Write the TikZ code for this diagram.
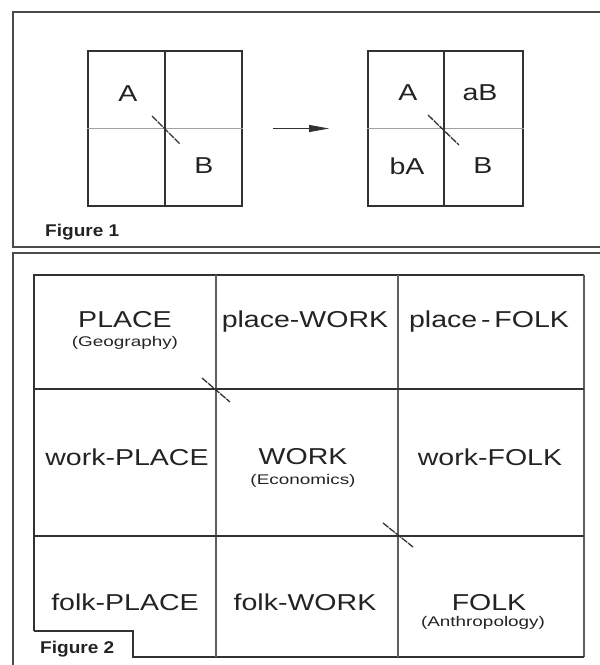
\documentclass[tikz,border=0pt]{standalone}
\usepackage{fontspec}
\usepackage{xcolor}
\usepackage{tikz}
\usetikzlibrary{arrows.meta, positioning}
\newfontfamily\cellfont[FakeStretch=1.24]{Liberation Sans}
\newfontfamily\subfont[FakeStretch=1.35]{Liberation Sans}
\newfontfamily\tagfont[FakeStretch=1.12]{Liberation Sans}
\definecolor{cink}{RGB}{35,35,35}
\definecolor{cline}{RGB}{50,50,50}
\definecolor{cthin}{RGB}{160,160,160}
\definecolor{cmid}{RGB}{95,95,95}
\definecolor{cframe}{RGB}{75,75,75}

\begin{document}
\begin{tikzpicture}[
  x=1pt, y=-1pt,
  lbl/.style     = {font=\cellfont\fontsize{23}{25}\selectfont, text=cink,
                    inner sep=0pt, anchor=base},
  sublbl/.style  = {font=\subfont\fontsize{14}{16}\selectfont, text=cink,
                    inner sep=0pt},
  figlbl/.style  = {font=\tagfont\bfseries\fontsize{17}{19}\selectfont,
                    text=cink, inner sep=0pt, anchor=base west},
  frame/.style   = {cframe, line width=2.2pt},
  outer/.style   = {cline, line width=1.8pt},
  thick row/.style = {cline, line width=2pt},
  thin col/.style  = {cmid, line width=1.1pt},
  faint/.style   = {cthin, line width=0.9pt},
  slash/.style   = {cline, line width=1.3pt, dash pattern=on 7pt off 1pt},
  arr/.style     = {-{Triangle[length=20pt, width=7pt]}, cline, line width=0.9pt},
]

%% --- frames ---
\useasboundingbox (0,0) rectangle (600,665);
\draw[frame] (600,12) -- (13,12) -- (13,247) -- (600,247);
\draw[frame] (600,253) -- (13,253) -- (13,665);

%% --- Figure 1 ---
\node[draw=cline, line width=1.8pt, minimum width=154pt, minimum height=155pt,
      inner sep=0pt] (gridL) at (165,128.5) {};
\node[draw=cline, line width=1.8pt, minimum width=155pt, minimum height=155pt,
      inner sep=0pt] (gridR) at (445.5,128.5) {};
\draw[faint] (gridL.west) -- (gridL.east);
\draw[faint] (gridR.west) -- (gridR.east);
\draw[outer] (gridL.north) -- (gridL.south);
\draw[outer] ([xshift=-1.5pt]gridR.north) -- ([xshift=-1.5pt]gridR.south);

\node[lbl] (a1)  at (128,101) {A};
\node[lbl] (b1)  at (204,173) {B};
\node[lbl] (a2)  at (408,100) {A};
\node[lbl] (ab2) at (480,100) {aB};
\node[lbl] (ba2) at (407,174) {bA};
\node[lbl] (b2)  at (483,173) {B};

\draw[slash] (152,116) -- (180,144);
\draw[slash] (428,115) -- (459,145);

\draw[arr] ([xshift=30pt]gridL.east) -- ([xshift=-38pt]gridR.west);

\node[figlbl] (fig1) at (45,236) {Figure 1};

%% --- Figure 2 grid ---
\draw[outer] (34,631) -- (34,275) -- (584,275);
\draw[outer, line width=1.2pt, cmid] (584,275) -- (584,657);
\draw[outer, line width=1.5pt] (584,657) -- (133,657) -- (133,631) -- (34,631);
\draw[thin col] (216,275) -- (216,657);
\draw[thin col] (398,275) -- (398,657);
\draw[thick row] (34,389) -- (584,389);
\draw[thick row] (34,536) -- (584,536);

\draw[slash] (202,378) -- (230,402);
\draw[slash] (383,523) -- (413,547);

%% --- Figure 2 labels ---
\node[lbl] (place)     at (125,327) {PLACE};
\node[lbl] (placework) at (305,327) {place-WORK};
\node[lbl] (placefolk) at (489,327) {place\,-\,FOLK};
\node[lbl] (workplace) at (127,465) {work-PLACE};
\node[lbl] (work)      at (303,464) {WORK};
\node[lbl] (workfolk)  at (490,465) {work-FOLK};
\node[lbl] (folkplace) at (125,610) {folk-PLACE};
\node[lbl] (folkwork)  at (305,610) {folk-WORK};
\node[lbl] (folk)      at (489,610) {FOLK};

\node[sublbl, below=9pt of place] (geo)  {(Geography)};
\node[sublbl, below=10pt of work] (econ) {(Economics)};
\node[sublbl, below=6pt of folk, xshift=-6pt] (anth) {(Anthropology)};

\node[figlbl] (fig2) at (40,653) {Figure 2};

\end{tikzpicture}
\end{document}
